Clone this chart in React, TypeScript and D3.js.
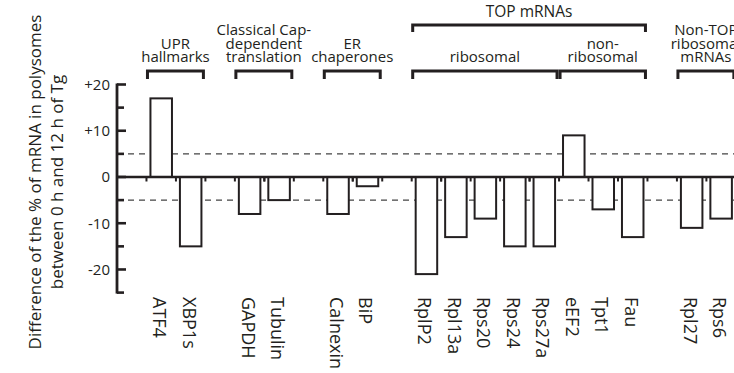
import React, { useRef, useEffect } from 'react';
import * as d3 from 'd3';

// categories and values (difference in % polysomal mRNA, 0 h vs 12 h Tg)
const uprGenes = ['ATF4', 'XBP1s'];
const uprValues = [17, -15];
const capGenes = ['GAPDH', 'Tubulin'];
const capValues = [-8, -5];
const erGenes = ['Calnexin', 'BiP'];
const erValues = [-8, -2];
const topRiboGenes = ['RplP2', 'Rpl13a', 'Rps20', 'Rps24', 'Rps27a'];
const topRiboValues = [-21, -13, -9, -15, -15];
const topNonRiboGenes = ['eEF2', 'Tpt1', 'Fau'];
const topNonRiboValues = [9, -7, -13];
const nonTopGenes = ['Rpl27', 'Rps6'];
const nonTopValues = [-11, -9];

const yTicks = [20, 10, 0, -10, -20];
const yTickLabels = ['+20', '+10', '0', '-10', '-20'];
const thresholds = [5, -5];

interface Group {
  lines: string[];
  genes: string[];
  values: number[];
  gapBefore: boolean;
}

const groups: Group[] = [
  { lines: ['UPR', 'hallmarks'], genes: uprGenes, values: uprValues, gapBefore: true },
  { lines: ['Classical Cap-', 'dependent', 'translation'], genes: capGenes, values: capValues, gapBefore: true },
  { lines: ['ER', 'chaperones'], genes: erGenes, values: erValues, gapBefore: true },
  { lines: ['ribosomal'], genes: topRiboGenes, values: topRiboValues, gapBefore: true },
  { lines: ['non-', 'ribosomal'], genes: topNonRiboGenes, values: topNonRiboValues, gapBefore: false },
  { lines: ['Non-TOP', 'ribosomal', 'mRNAs'], genes: nonTopGenes, values: nonTopValues, gapBefore: true },
];
const superGroup = { label: 'TOP mRNAs', first: 'RplP2', last: 'Fau' };

const W = 734;
const H = 373;
const INK = '#231f20';
const FONT = "'Open Sans', 'Noto Sans', sans-serif";

const App: React.FC = () => {
  const svgRef = useRef<SVGSVGElement>(null);

  useEffect(() => {
    if (!svgRef.current) return;
    const svg = d3.select(svgRef.current);
    svg.selectAll('*').remove();

    // band domain with spacer slots between groups
    const domain: string[] = [];
    groups.forEach((g, i) => {
      if (g.gapBefore) domain.push(`_gap${i}`);
      g.genes.forEach((n) => domain.push(n));
    });
    const data = groups.flatMap((g) => g.genes.map((n, i) => ({ name: n, value: g.values[i] })));

    const axisX = 117;
    const step = 29.47;
    const x = d3.scaleBand<string>()
      .domain(domain)
      .range([axisX, axisX + step * domain.length])
      .paddingInner(0.27)
      .paddingOuter(0.135);
    const center = (n: string) => (x(n) as number) + x.bandwidth() / 2;
    const slotStart = (n: string) => center(n) - x.step() / 2;
    const slotEnd = (n: string) => center(n) + x.step() / 2;

    const y = d3.scaleLinear().domain([-25, 20]).range([292.6, 84.5]);

    // dashed thresholds
    svg.append('g').selectAll('line')
      .data(thresholds)
      .enter().append('line')
      .attr('x1', axisX).attr('x2', W)
      .attr('y1', (d) => y(d)).attr('y2', (d) => y(d))
      .attr('stroke', '#444')
      .attr('stroke-width', 1.2)
      .attr('stroke-dasharray', '6,5');

    // bars
    svg.append('g').selectAll('rect')
      .data(data)
      .enter().append('rect')
      .attr('x', (d) => x(d.name) as number)
      .attr('width', x.bandwidth())
      .attr('y', (d) => y(Math.max(0, d.value)))
      .attr('height', (d) => Math.abs(y(d.value) - y(0)))
      .attr('fill', 'white')
      .attr('stroke', INK)
      .attr('stroke-width', 2);

    // zero line with slot ticks
    svg.append('line')
      .attr('x1', axisX).attr('x2', W)
      .attr('y1', y(0)).attr('y2', y(0))
      .attr('stroke', INK).attr('stroke-width', 2.6);
    const bounds = Array.from(new Set(data.flatMap((d) => [slotStart(d.name), slotEnd(d.name)])));
    svg.append('g').selectAll('line')
      .data(bounds)
      .enter().append('line')
      .attr('x1', (d) => d).attr('x2', (d) => d)
      .attr('y1', y(0)).attr('y2', y(0) + 4.5)
      .attr('stroke', INK).attr('stroke-width', 2);

    // y axis
    const yAxis = svg.append('g');
    yAxis.append('line')
      .attr('x1', axisX).attr('x2', axisX)
      .attr('y1', y(20) - 1).attr('y2', y(-25) + 1)
      .attr('stroke', INK).attr('stroke-width', 2.8);
    yAxis.selectAll('line.tick')
      .data(d3.range(-25, 21, 5))
      .enter().append('line')
      .attr('class', 'tick')
      .attr('x1', axisX).attr('x2', (d) => axisX + (d % 10 === 0 ? 9 : 7))
      .attr('y1', (d) => y(d)).attr('y2', (d) => y(d))
      .attr('stroke', INK).attr('stroke-width', 2.6);
    yAxis.selectAll('text')
      .data(yTicks)
      .enter().append('text')
      .attr('x', 110)
      .attr('y', (d) => y(d))
      .attr('dy', '0.36em')
      .attr('text-anchor', 'end')
      .attr('font-family', FONT)
      .attr('font-size', 15)
      .attr('fill', INK)
      .text((_d, i) => yTickLabels[i]);

    // y axis title
    const titleLines = ['Difference of the % of mRNA in polysomes', 'between 0 h and 12 h of Tg'];
    const titleX = [34, 56];
    const midY = 182;
    titleLines.forEach((t, i) => {
      svg.append('text')
        .attr('transform', `translate(${titleX[i]},${midY}) rotate(-90)`)
        .attr('text-anchor', 'middle')
        .attr('dominant-baseline', 'central')
        .attr('font-family', FONT)
        .attr('font-size', 17)
        .attr('fill', INK)
        .text(t);
    });

    // category labels
    svg.append('g').selectAll('text')
      .data(data)
      .enter().append('text')
      .attr('transform', (d) => `translate(${center(d.name) - 1},297) rotate(90)`)
      .attr('dominant-baseline', 'central')
      .attr('font-family', FONT)
      .attr('font-size', 18)
      .attr('fill', INK)
      .text((d) => d.name);

    // brackets
    const bracket = (x0: number, x1: number, yb: number, drop: number) => {
      svg.append('path')
        .attr('d', `M${x0},${yb + drop}V${yb}H${x1}V${yb + drop}`)
        .attr('fill', 'none')
        .attr('stroke', INK)
        .attr('stroke-width', 3);
    };
    const lineH = 13.3;
    groups.forEach((g) => {
      const x0 = slotStart(g.genes[0]) + 1;
      const x1 = slotEnd(g.genes[g.genes.length - 1]) - 2;
      bracket(x0, x1, 71, 8);
      g.lines.forEach((l, i) => {
        svg.append('text')
          .attr('x', (x0 + x1) / 2)
          .attr('y', 62 - (g.lines.length - 1 - i) * lineH)
          .attr('text-anchor', 'middle')
          .attr('font-family', FONT)
          .attr('font-size', 15)
          .attr('fill', INK)
          .text(l);
      });
    });
    const tx0 = slotStart(superGroup.first) + 1;
    const tx1 = slotEnd(superGroup.last) - 2;
    bracket(tx0, tx1, 25, 7);
    svg.append('text')
      .attr('x', (tx0 + tx1) / 2)
      .attr('y', 17)
      .attr('text-anchor', 'middle')
      .attr('font-family', FONT)
      .attr('font-size', 15.5)
      .attr('fill', INK)
      .text(superGroup.label);
  }, []);

  return (
    <div style={{ position: 'absolute', left: 0, top: 0 }}>
      <svg ref={svgRef} width={W} height={H} style={{ display: 'block', background: 'white' }} />
    </div>
  );
};

export default App;
